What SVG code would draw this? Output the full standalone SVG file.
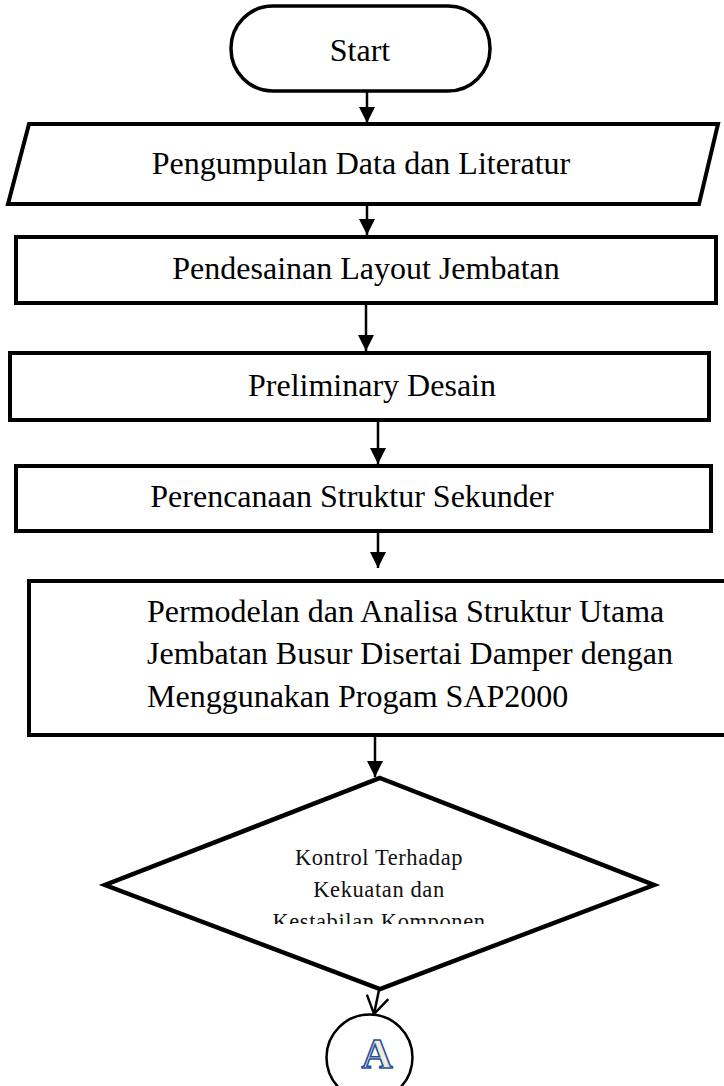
<svg xmlns="http://www.w3.org/2000/svg" width="724" height="1086" viewBox="0 0 724 1086">
<style>
.shape{fill:#fff;stroke:#000;stroke-width:4;stroke-linejoin:miter}
.term{fill:#fff;stroke:#000;stroke-width:3.5}
.t{font-family:"Liberation Serif","Times New Roman",serif;font-size:32px;fill:#000}
.c{text-anchor:middle}
.d{font-family:"Liberation Serif","Times New Roman",serif;font-size:22.5px;letter-spacing:0.6px;fill:#111;text-anchor:middle}
.conn{stroke:#000;stroke-width:2.5;fill:none}
</style>
<defs>
<marker id="ah" markerWidth="16" markerHeight="16" refX="14" refY="7" orient="auto" markerUnits="userSpaceOnUse" viewBox="0 0 14 14">
<path d="M0,0 L14,7 L0,14 z" fill="#000"/>
</marker>
<marker id="oh" markerWidth="24" markerHeight="24" refX="18" refY="11" orient="auto" markerUnits="userSpaceOnUse" viewBox="0 0 22 22">
<path d="M2,1 L18,11 L2,21" fill="none" stroke="#000" stroke-width="2.2"/>
</marker>
<clipPath id="dclip"><rect x="200" y="830" width="360" height="94"/></clipPath>
</defs>
<g id="connectors">
<line class="conn" x1="367" y1="91" x2="367" y2="123" marker-end="url(#ah)"/>
<line class="conn" x1="367" y1="206" x2="367" y2="235" marker-end="url(#ah)"/>
<line class="conn" x1="366" y1="305" x2="366" y2="351" marker-end="url(#ah)"/>
<line class="conn" x1="378" y1="422" x2="378" y2="464" marker-end="url(#ah)"/>
<line class="conn" x1="378" y1="533" x2="378" y2="568" marker-end="url(#ah)"/>
<line class="conn" x1="375" y1="737" x2="375" y2="777" marker-end="url(#ah)"/>
<line class="conn" x1="379" y1="990" x2="374" y2="1014" marker-end="url(#oh)"/>
</g>
<g id="start">
<rect class="term" x="231" y="6" width="259" height="85" rx="42" ry="42"/>
<text class="t c" x="360" y="61">Start</text>
</g>
<g id="data">
<polygon class="shape" points="29,124 718,124 699,204 8,204"/>
<text class="t c" x="361" y="174">Pengumpulan Data dan Literatur</text>
</g>
<g id="layout">
<rect class="shape" x="16" y="237" width="700" height="66"/>
<text class="t c" x="366" y="279">Pendesainan Layout Jembatan</text>
</g>
<g id="preliminary">
<rect class="shape" x="10" y="353" width="699" height="67"/>
<text class="t c" x="372" y="396">Preliminary Desain</text>
</g>
<g id="sekunder">
<rect class="shape" x="16" y="466" width="695" height="65"/>
<text class="t c" x="352" y="507">Perencanaan Struktur Sekunder</text>
</g>
<g id="permodelan">
<rect class="shape" x="29" y="581" width="702" height="154"/>
<text class="t" x="147" y="622">Permodelan dan Analisa Struktur Utama</text>
<text class="t" x="147" y="664">Jembatan Busur Disertai Damper dengan</text>
<text class="t" x="147" y="707">Menggunakan Progam SAP2000</text>
</g>
<g id="kontrol">
<polygon class="shape" points="380,778 654,885 380,989 105,885" style="stroke-width:4.5"/>
<g clip-path="url(#dclip)">
<text class="d" x="379" y="865">Kontrol Terhadap</text>
<text class="d" x="379" y="897">Kekuatan dan</text>
<text class="d" x="379" y="929">Kestabilan Komponen</text>
</g>
</g>
<g id="connectorA">
<circle cx="369.5" cy="1057.5" r="43" fill="#fff" stroke="#000" stroke-width="2.5"/>
<text x="377" y="1068" font-family="'Liberation Serif','Times New Roman',serif" font-size="43" font-weight="bold" fill="#f1ecd8" stroke="#1f50a0" stroke-width="1.6" text-anchor="middle">A</text>
</g>
</svg>
